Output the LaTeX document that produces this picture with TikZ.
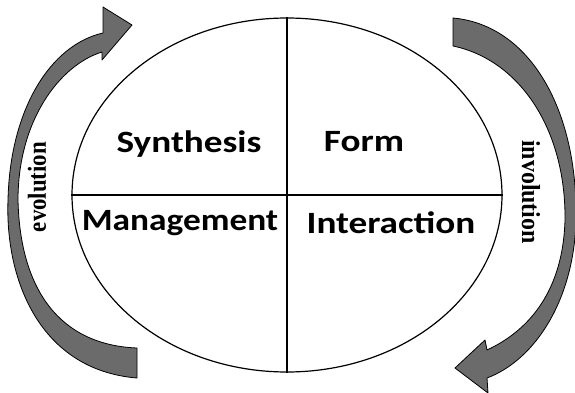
\documentclass[tikz,border=0pt]{standalone}
\usepackage{fontspec}
\setmainfont{Carlito}
\newfontfamily\timesfont{Liberation Serif}
\usetikzlibrary{shapes.geometric}
\begin{document}
\begin{tikzpicture}[x=1pt,y=-1pt]
            \tikzstyle{quart}=[anchor=base,inner sep=0pt,font=\fontsize{31}{33}\selectfont\bfseries]
            \tikzstyle{sens}=[font=\timesfont\fontsize{26}{28}\selectfont\bfseries]
            \tikzstyle{fleche}=[fill=black!58,draw=black,line width=0.8pt,line join=round]
            \useasboundingbox (0,0) rectangle (575,393);
            \node[ellipse,draw,line width=1.2pt,minimum width=430pt,minimum height=354pt,inner sep=0pt] (ell) at (287,195) {};
            \draw[line width=1.2pt] (ell.north) -- (ell.south);
            \draw[line width=1.2pt] (ell.west) -- (ell.east);
            \node[quart] (syn) at (189,152) {\scalebox{1.2}[1]{Synthesis}};
            \node[quart] (form) at (364,151) {\scalebox{1.2}[1]{Form}};
            \node[quart] (man) at (180,230) {\scalebox{1.14}[1]{Management}};
            \node[quart] (inter) at (391,233) {\scalebox{1.2}[1]{Interaction}};
            % evolution
            \draw[fleche] (137,378) .. controls (40,370) and (5,280) .. (8,200)
                .. controls (10,110) and (50,45) .. (103,33)
                -- (103,7) -- (132,25) -- (102,60) -- (102,52)
                .. controls (60,65) and (18,120) .. (18,200)
                .. controls (20,290) and (60,345) .. (137,348) -- cycle;
            % involution
            \draw[fleche] (453,18) .. controls (530,25) and (578,110) .. (576,220)
                .. controls (574,300) and (535,360) .. (487,378)
                -- (488,393) -- (455,368) -- (485,340) -- (487,350)
                .. controls (530,330) and (563,290) .. (565,220)
                .. controls (566,130) and (520,60) .. (453,46) -- cycle;
            \node[sens,rotate=90] (evo) at (37,187) {\scalebox{0.88}[1]{evolution}};
            \node[sens,rotate=-90] (invo) at (531,192) {\scalebox{0.92}[1]{involution}};
        \end{tikzpicture}
\end{document}
